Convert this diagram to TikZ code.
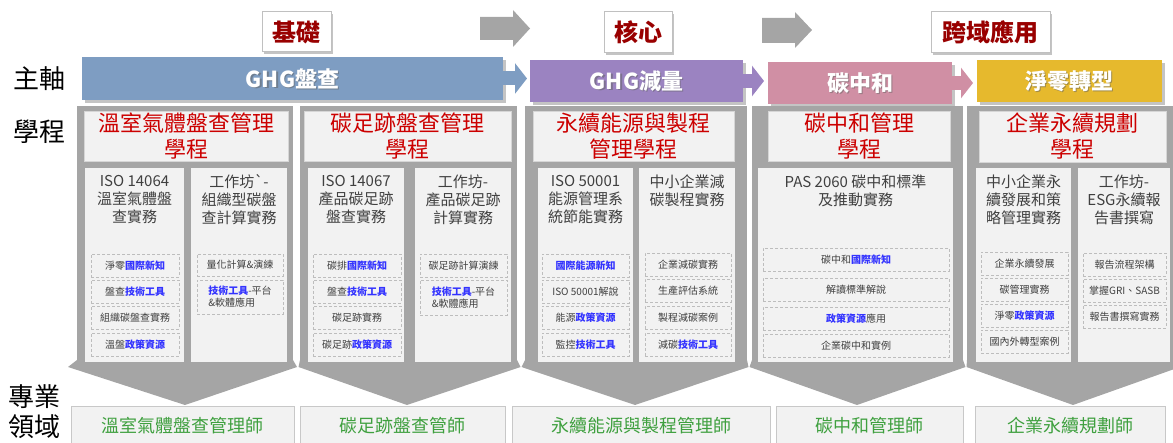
\documentclass[tikz,border=0pt]{standalone}
\usepackage{fontspec}
\newfontfamily\cjk{Noto Sans CJK TC}
\usetikzlibrary{arrows.meta,fit}
\definecolor{colgray}{HTML}{A5A5A5}
\definecolor{boxfill}{HTML}{F2F2F2}
\definecolor{boxline}{HTML}{D6D6D6}
\definecolor{dashgray}{HTML}{BDBDBD}
\definecolor{titlered}{HTML}{CC0000}
\definecolor{subtxt}{HTML}{404040}
\definecolor{hlblue}{HTML}{3333FF}
\definecolor{jobgreen}{HTML}{3FA03F}
\definecolor{jobline}{HTML}{C8C8C8}
\definecolor{lblred}{HTML}{990000}
\definecolor{lblline}{HTML}{C0C0C0}
\definecolor{barblue}{HTML}{7E9DC2}
\definecolor{barpurple}{HTML}{9B83C1}
\definecolor{barpink}{HTML}{D08FA4}
\definecolor{baryellow}{HTML}{E6B92D}
\definecolor{shadowgray}{HTML}{C4C4C4}
\definecolor{txtshadow}{HTML}{606060}
\newcommand\blu[1]{\textcolor{hlblue}{\bfseries #1}}
% box node (empty, fitted to two corners) + named text node at its centre
\newcommand\bx[5]{\node[#1, fit={#3}] (#2) {};\node[#4] (#2-t) at (#2.center) {#5};}
\tikzset{
  col/.style={fill=colgray, draw=none, inner sep=0pt, outer sep=0pt},
  tbox/.style={fill=boxfill, draw=boxline, line width=0.8pt, inner sep=0pt, outer sep=0pt},
  ttext/.style={text=titlered, font=\cjk\fontsize{22}{26}\selectfont, align=center, inner sep=0pt},
  sbox/.style={fill=boxfill, draw=none, inner sep=0pt, outer sep=0pt},
  stext/.style={text=subtxt, font=\cjk\fontsize{15}{18}\selectfont, align=center, inner sep=0pt},
  dbox/.style={fill=boxfill, draw=dashgray, dash pattern=on 3pt off 2pt, line width=0.8pt, inner sep=0pt, outer sep=0pt},
  dtext/.style={text=subtxt, font=\cjk\fontsize{10}{12}\selectfont, align=center, inner sep=0pt},
  bar/.style={inner sep=0pt, outer sep=0pt},
  btext/.style={text=white, font=\cjk\bfseries\fontsize{22}{26}\selectfont, inner sep=0pt},
  lbl/.style={fill=white, draw=lblline, line width=1pt, inner sep=0pt, outer sep=0pt},
  ltext/.style={text=lblred, font=\cjk\bfseries\fontsize{24}{28}\selectfont, inner sep=0pt},
  side/.style={text=black, font=\cjk\fontsize{26}{30}\selectfont, inner sep=0pt},
  job/.style={fill=boxfill, draw=jobline, line width=0.8pt, inner sep=0pt, outer sep=0pt},
  jtext/.style={text=jobgreen, font=\cjk\fontsize{18}{22}\selectfont, inner sep=0pt},
  conn/.style={line width=14pt, -{Triangle[length=12pt,width=30pt]}},
  bigarrow/.style={fill=colgray, draw=none},
  shadow/.style={fill=shadowgray, draw=none}
}
\begin{document}
\begin{tikzpicture}[x=1pt,y=-1pt]
\useasboundingbox (0,0) rectangle (1173,443);
\clip (0,0) rectangle (1173,443);
% side labels
\node[side] (zhuzhou) at (39,79) {主軸};
\node[side] (xuecheng) at (39,132) {學程};
\node[side] (zhuanye) at (35,397) {專業};
\node[side] (lingyu) at (35,427) {領域};
% top labels
\fill[shadow] (264,14) rectangle (333,54);
\fill[shadow] (606,14) rectangle (674,55);
\fill[shadow] (933,14) rectangle (1052,55);
\bx{lbl}{l1}{(262,12)(331,52)}{ltext}{基礎}
\bx{lbl}{l2}{(604,12)(672,53)}{ltext}{核心}
\bx{lbl}{l3}{(931,12)(1050,53)}{ltext}{跨域應用}
% gray arrows
\fill[bigarrow] (480,17) -- (513,17) -- (513,10) -- (530,28.5) -- (513,47) -- (513,40) -- (480,40) -- cycle;
\fill[bigarrow] (762,18) -- (795,18) -- (795,12) -- (812,30) -- (795,48) -- (795,43) -- (762,43) -- cycle;
% bar shadows
\fill[shadow] (85,60) rectangle (506,103);
\fill[shadow] (533,63) rectangle (746,105);
\fill[shadow] (771,65) rectangle (955,107);
\fill[shadow] (980,63) rectangle (1165,105);
% columns (bodies + chevrons)
\node[col, fit={(77,106)(293,366)}] (c1) {};
\node[col, fit={(300,106)(517,366)}] (c2) {};
\node[col, fit={(525,106)(747,366)}] (c3) {};
\node[col, fit={(752,106)(963,366)}] (c4) {};
\node[col, fit={(967,106)(1175,366)}] (c5) {};
\fill[colgray] (77,360) -- (68,367) -- (185,405) -- (297,367) -- (293,360) -- cycle;
\fill[colgray] (300,360) -- (298.5,367) -- (407,405) -- (520.5,367) -- (517,360) -- cycle;
\fill[colgray] (525,360) -- (521.5,367) -- (635,405) -- (748.5,367) -- (747,360) -- cycle;
\fill[colgray] (752,360) -- (749.5,367) -- (857,405) -- (965.5,367) -- (963,360) -- cycle;
\fill[colgray] (967,360) -- (966.5,367) -- (1073,405) -- (1180,367) -- (1175,360) -- cycle;
% bars
\node[bar, fill=barblue, fit={(82,57)(503,100)}] (b1) {};
\node[bar, fill=barpurple, fit={(530,60)(743,102)}] (b2) {};
\node[bar, fill=barpink, fit={(768,62)(952,104)}] (b3) {};
\node[bar, fill=baryellow, fit={(977,60)(1162,102)}] (b4) {};
\draw[conn, barblue, shorten >=3pt] (b1.east) -- (b1.east -| b2.west);
\draw[conn, barpurple, shorten >=4pt] (b2.east) -- (b2.east -| b3.west);
\draw[conn, barpink, shorten >=4pt] (b3.east) -- (b3.east -| b4.west);
\node[btext, text=txtshadow, opacity=0.5] (b1-s) at ([xshift=1.2pt,yshift=-1.2pt]b1.center) {GHG盤查};
\node[btext, text=txtshadow, opacity=0.5] (b2-s) at ([xshift=1.2pt,yshift=-1.2pt]b2.center) {GHG減量};
\node[btext, text=txtshadow, opacity=0.5] (b3-s) at ([xshift=1.2pt,yshift=-1.2pt]b3.center) {碳中和};
\node[btext, text=txtshadow, opacity=0.5] (b4-s) at ([xshift=1.2pt,yshift=-1.2pt]b4.center) {淨零轉型};
\node[btext] (b1-t) at (b1.center) {GHG盤查};
\node[btext] (b2-t) at (b2.center) {GHG減量};
\node[btext] (b3-t) at (b3.center) {碳中和};
\node[btext] (b4-t) at (b4.center) {淨零轉型};
% ---- column 1
\bx{tbox}{c1t}{(84,111)(288,161)}{ttext}{溫室氣體盤查管理\\學程}
\node[sbox, fit={(85,168)(184,362)}] (c1s1) {};
\node[sbox, fit={(191,168)(287,362)}] (c1s2) {};
\node[stext] (c1s1h) at (134.5,200) {ISO 14064\\溫室氣體盤\\查實務};
\node[stext] (c1s2h) at (239,200) {工作坊\textasciigrave-\\組織型碳盤\\查計算實務};
\bx{dbox}{c1a}{(91,254)(179,277)}{dtext}{淨零\blu{國際新知}}
\bx{dbox}{c1b}{(91,280)(179,303)}{dtext}{盤查\blu{技術工具}}
\bx{dbox}{c1c}{(91,306)(179,329)}{dtext}{組織碳盤查實務}
\bx{dbox}{c1d}{(91,333)(179,356)}{dtext}{溫盤\blu{政策資源}}
\bx{dbox}{c1e}{(197,254)(283,276)}{dtext}{量化計算\&演練}
\bx{dbox}{c1f}{(197,280)(283,314)}{dtext, align=left}{\blu{技術工具}-平台\\\&軟體應用}
% ---- column 2
\bx{tbox}{c2t}{(304,111)(511,161)}{ttext}{碳足跡盤查管理\\學程}
\node[sbox, fit={(308,168)(404,362)}] (c2s1) {};
\node[sbox, fit={(415,168)(511,362)}] (c2s2) {};
\node[stext] (c2s1h) at (356,200) {ISO 14067\\產品碳足跡\\盤查實務};
\node[stext] (c2s2h) at (463,200) {工作坊-\\產品碳足跡\\計算實務};
\bx{dbox}{c2a}{(313,254)(401,277)}{dtext}{碳排\blu{國際新知}}
\bx{dbox}{c2b}{(313,280)(401,303)}{dtext}{盤查\blu{技術工具}}
\bx{dbox}{c2c}{(313,306)(401,329)}{dtext}{碳足跡實務}
\bx{dbox}{c2d}{(313,333)(401,356)}{dtext}{碳足跡\blu{政策資源}}
\bx{dbox}{c2e}{(420,254)(507,277)}{dtext}{碳足跡計算演練}
\bx{dbox}{c2f}{(420,280)(507,315)}{dtext, align=left}{\blu{技術工具}-平台\\\&軟體應用}
% ---- column 3
\bx{tbox}{c3t}{(533,111)(734,161)}{ttext}{永續能源與製程\\管理學程}
\node[sbox, fit={(538,168)(633,362)}] (c3s1) {};
\node[sbox, fit={(639,168)(735,362)}] (c3s2) {};
\node[stext] (c3s1h) at (585.5,200) {ISO 50001\\能源管理系\\統節能實務};
\node[stext] (c3s2h) at (687,191) {中小企業減\\碳製程實務};
\bx{dbox}{c3a}{(542,254)(629,277)}{dtext}{\blu{國際能源新知}}
\bx{dbox}{c3b}{(542,280)(629,303)}{dtext}{ISO 50001解說}
\bx{dbox}{c3c}{(542,306)(629,329)}{dtext}{能源\blu{政策資源}}
\bx{dbox}{c3d}{(542,333)(629,356)}{dtext}{監控\blu{技術工具}}
\bx{dbox}{c3e}{(645,253)(731,276)}{dtext}{企業減碳實務}
\bx{dbox}{c3f}{(645,279)(731,302)}{dtext}{生產評估系統}
\bx{dbox}{c3g}{(645,306)(731,329)}{dtext}{製程減碳案例}
\bx{dbox}{c3h}{(645,333)(731,356)}{dtext}{減碳\blu{技術工具}}
% ---- column 4
\bx{tbox}{c4t}{(768,111)(950,161)}{ttext}{碳中和管理\\學程}
\node[sbox, fit={(758,168)(953,362)}] (c4s1) {};
\node[stext] (c4s1h) at (855.5,191) {PAS 2060 碳中和標準\\及推動實務};
\bx{dbox}{c4a}{(763,248)(949,271)}{dtext}{碳中和\blu{國際新知}}
\bx{dbox}{c4b}{(763,278)(949,301)}{dtext}{解讀標準解說}
\bx{dbox}{c4c}{(763,307)(949,330)}{dtext}{\blu{政策資源}應用}
\bx{dbox}{c4d}{(763,334)(949,357)}{dtext}{企業碳中和實例}
% ---- column 5
\bx{tbox}{c5t}{(979,111)(1166,162)}{ttext}{企業永續規劃\\學程}
\node[sbox, fit={(976,168)(1071,362)}] (c5s1) {};
\node[sbox, fit={(1078,168)(1170,362)}] (c5s2) {};
\node[stext] (c5s1h) at (1023.5,200) {中小企業永\\續發展和策\\略管理實務};
\node[stext] (c5s2h) at (1124,200) {工作坊-\\ESG永續報\\告書撰寫};
\bx{dbox}{c5a}{(981,252)(1068,275)}{dtext}{企業永續發展}
\bx{dbox}{c5b}{(981,278)(1068,301)}{dtext}{碳管理實務}
\bx{dbox}{c5c}{(981,304)(1068,327)}{dtext}{淨零\blu{政策資源}}
\bx{dbox}{c5d}{(981,330)(1068,353)}{dtext}{國內外轉型案例}
\bx{dbox}{c5e}{(1083,253)(1166,276)}{dtext}{報告流程架構}
\bx{dbox}{c5f}{(1083,279)(1166,302)}{dtext}{掌握GRI、SASB}
\bx{dbox}{c5g}{(1083,305)(1166,328)}{dtext}{報告書撰寫實務}
% ---- bottom job boxes
\node[job, fit={(71,406)(294,446)}] (j1) {};
\node[job, fit={(300,406)(505,446)}] (j2) {};
\node[job, fit={(512,406)(770,446)}] (j3) {};
\node[job, fit={(776,406)(963,446)}] (j4) {};
\node[job, fit={(975,406)(1165,446)}] (j5) {};
\node[jtext] (j1-t) at (182.5,426) {溫室氣體盤查管理師};
\node[jtext] (j2-t) at (402.5,426) {碳足跡盤查管師};
\node[jtext] (j3-t) at (641,426) {永續能源與製程管理師};
\node[jtext] (j4-t) at (869.5,426) {碳中和管理師};
\node[jtext] (j5-t) at (1070,426) {企業永續規劃師};
\end{tikzpicture}
\end{document}
